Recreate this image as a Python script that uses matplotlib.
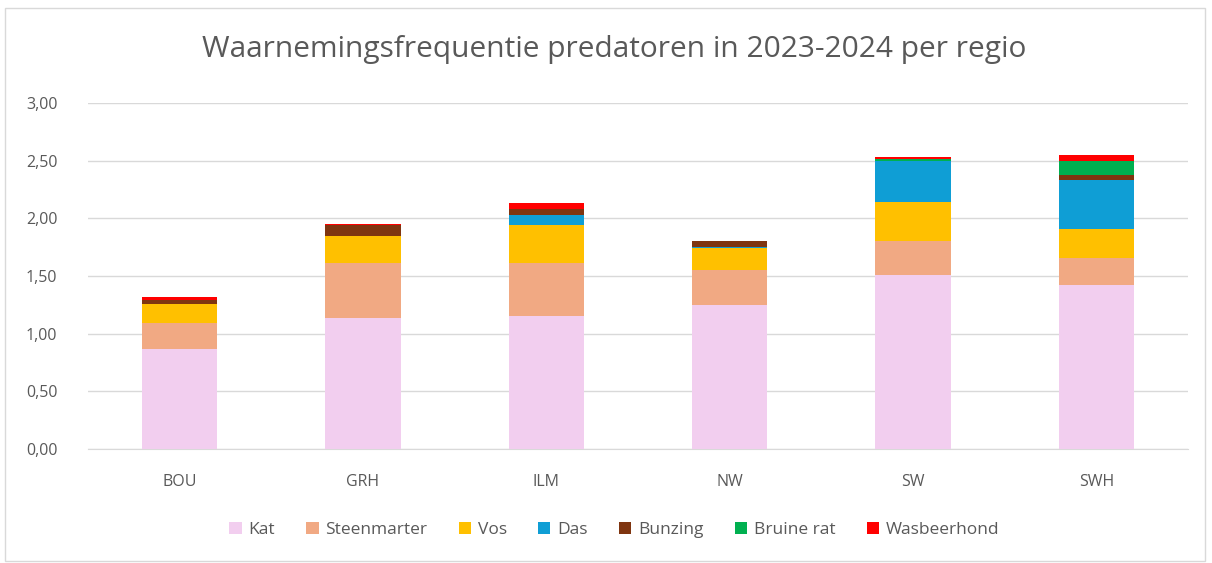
import numpy as np
import matplotlib.pyplot as plt
from matplotlib.patches import Rectangle
from matplotlib.ticker import FuncFormatter

regions = ["BOU", "GRH", "ILM", "NW", "SW", "SWH"]
soorten = ["Kat", "Steenmarter", "Vos", "Das", "Bunzing", "Bruine rat", "Wasbeerhond"]

kat = [0.87, 1.14, 1.15, 1.25, 1.51, 1.42]
steenmarter = [0.22, 0.47, 0.46, 0.30, 0.29, 0.24]
vos = [0.17, 0.24, 0.33, 0.19, 0.34, 0.25]
das = [0.00, 0.00, 0.09, 0.015, 0.36, 0.42]
bunzing = [0.035, 0.09, 0.05, 0.05, 0.00, 0.05]
bruine_rat = [0.00, 0.00, 0.00, 0.00, 0.017, 0.12]
wasbeerhond = [0.02, 0.015, 0.05, 0.00, 0.017, 0.05]

kleuren = ["#F2CEEF", "#F1A983", "#FFC000", "#0F9ED5", "#7F3510", "#00B050", "#FF0000"]

plt.rcParams['font.family'] = ['Open Sans', 'DejaVu Sans']

fig = plt.figure(figsize=(12.12, 5.63), dpi=100)
fig.patches.append(Rectangle((0.004, 0.004), 0.99, 0.982, transform=fig.transFigure,
                             fill=False, edgecolor="#D9D9D9", linewidth=1))
ax = fig.add_axes([88/1212, 1-449/563, 1100/1212, 346/563])

x = np.arange(len(regions))
bottom = np.zeros(len(regions))
for naam, vals, kl in zip(soorten, [kat, steenmarter, vos, das, bunzing, bruine_rat, wasbeerhond], kleuren):
    ax.bar(x, vals, width=0.41, bottom=bottom, color=kl, label=naam, zorder=3)
    bottom += np.array(vals)

ax.set_xlim(-0.5, len(regions) - 0.5)
ax.set_ylim(0, 3)
ax.set_yticks(np.arange(0, 3.01, 0.5))
ax.yaxis.set_major_formatter(FuncFormatter(lambda v, p: f"{v:.2f}".replace(".", ",")))
ax.set_xticks(x)
ax.set_xticklabels(regions)
ax.grid(axis="y", color="#D9D9D9", linewidth=1, zorder=0)
for s in ["top", "right", "left"]:
    ax.spines[s].set_visible(False)
ax.spines["bottom"].set_color("#D9D9D9")
ax.tick_params(length=0, labelsize=11.5, labelcolor="#595959")
ax.tick_params(axis="x", pad=18)
ax.tick_params(axis="y", pad=22)

fig.text(0.507, 1-50/563, "Waarnemingsfrequentie predatoren in 2023-2024 per regio",
         ha="center", va="center", fontsize=21.5, color="#595959")

fig.legend(loc="center", bbox_to_anchor=(0.507, 1-530/563), ncol=7, frameon=False,
           fontsize=12.5, labelcolor="#595959", handlelength=0.7, handleheight=0.7,
           handletextpad=0.4, columnspacing=1.8)

fig.savefig("out.png", dpi=100)
